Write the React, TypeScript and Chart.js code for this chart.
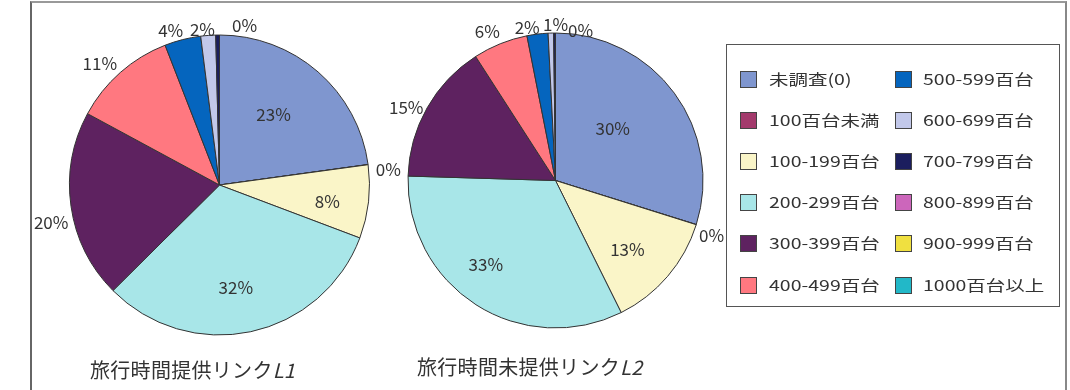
import React, { useEffect, useRef } from "react";
import { Chart, registerables } from "chart.js";

Chart.register(...registerables);

const categories = [
  "未調査(0)", "100百台未満", "100-199百台", "200-299百台", "300-399百台", "400-499百台",
  "500-599百台", "600-699百台", "700-799百台", "800-899百台", "900-999百台", "1000百台以上",
];
const colors = [
  "#7F96CF", "#A33A6C", "#FAF5C8", "#A8E6E8", "#5E2260", "#FF7880",
  "#0565BE", "#C2C8EA", "#1B1E5E", "#CC66BB", "#F0E040", "#22B8C8",
];
const seriesL1 = [22.8, 0.02, 7.9, 31.8, 20.3, 11.2, 3.9, 1.6, 0.4, 0, 0, 0];
const seriesL2 = [29.8, 0.02, 12.8, 32.8, 15.4, 6.0, 2.3, 0.6, 0.2, 0, 0, 0];

// label placement config (which slices get inside labels, and fine nudges)
const insideL1 = [0, 2, 3];
const insideL2 = [0, 2, 3];
const nudgeL1: Record<number, [number, number]> = {
  0: [-10, 3], 1: [5, 7], 2: [11, 6], 3: [-4, 7], 4: [0, 13], 5: [-8, 5], 6: [-9, 2], 7: [-5, 4], 8: [27, 0],
};
const nudgeL2: Record<number, [number, number]> = {
  0: [-20, 5], 1: [0, 6], 2: [-1, 7], 3: [-18, 3], 4: [-3, 10], 5: [-8, 0], 6: [-9, 4], 7: [5, 1], 8: [26, 7],
};

const LABEL_FONT = '17px "Noto Sans CJK JP", sans-serif';

function makeLabelPlugin(inside: number[], nudge: Record<number, [number, number]>) {
  return {
    id: "pctLabels",
    afterDatasetsDraw(chart: any) {
      const ctx = chart.ctx;
      const meta = chart.getDatasetMeta(0);
      const data = chart.data.datasets[0].data as number[];
      const total = data.reduce((a, b) => a + b, 0);
      ctx.save();
      ctx.font = LABEL_FONT;
      ctx.fillStyle = "#333";
      ctx.textAlign = "center";
      ctx.textBaseline = "middle";
      meta.data.forEach((arc: any, i: number) => {
        const v = data[i];
        if (!(v > 0)) return;
        const text = Math.round((v / total) * 100) + "%";
        const p = arc.getProps(["x", "y", "startAngle", "endAngle", "outerRadius"], true);
        const mid = (p.startAngle + p.endAngle) / 2;
        const ux = Math.cos(mid);
        const uy = Math.sin(mid);
        let x: number, y: number;
        if (inside.includes(i)) {
          x = p.x + ux * p.outerRadius * 0.65;
          y = p.y + uy * p.outerRadius * 0.65;
        } else {
          const w = ctx.measureText(text).width;
          const h = 14;
          const d = p.outerRadius + 2 + Math.abs(ux) * w / 2 + Math.abs(uy) * h / 2;
          x = p.x + ux * d;
          y = p.y + uy * d;
        }
        const n = nudge[i] || [0, 0];
        ctx.fillText(text, x + n[0], y + n[1]);
      });
      ctx.restore();
    },
  };
}

function PieCanvas(props: { values: number[]; padding: any; inside: number[]; nudge: Record<number, [number, number]> }) {
  const ref = useRef<HTMLCanvasElement | null>(null);
  useEffect(() => {
    if (!ref.current) return;
    const chart = new Chart(ref.current, {
      type: "pie",
      data: {
        labels: categories,
        datasets: [
          {
            data: props.values,
            backgroundColor: colors,
            borderColor: "#333",
            borderWidth: 1,
          },
        ],
      },
      options: {
        responsive: false,
        animation: false,
        layout: { padding: props.padding },
        plugins: { legend: { display: false }, tooltip: { enabled: false }, title: { display: false } },
      },
      plugins: [makeLabelPlugin(props.inside, props.nudge)],
    } as any);
    return () => chart.destroy();
  }, []);
  return (
    <canvas
      ref={ref}
      width={1070}
      height={390}
      style={{ position: "absolute", left: 0, top: 0, width: 1070, height: 390 }}
    />
  );
}

export default function App() {
  useEffect(() => {
    document.body.style.margin = "0";
    document.body.style.overflow = "hidden";
  }, []);
  const legendFont = '"Noto Sans CJK JP", sans-serif';
  const rows = 6;
  return (
    <div style={{ position: "absolute", left: 0, top: 0, width: 1070, height: 390, background: "#fff", overflow: "hidden" }}>
      <div
        style={{
          position: "absolute",
          left: 30,
          top: 1,
          width: 1037,
          height: 400,
          borderLeft: "2px solid #666",
          borderTop: "2px solid #999",
          borderRight: "2px solid #888",
          boxSizing: "border-box",
        }}
      />
      <PieCanvas values={seriesL1} padding={{ left: 69, right: 700, top: 34.5, bottom: 54.5 }} inside={insideL1} nudge={nudgeL1} />
      <PieCanvas values={seriesL2} padding={{ left: 407.5, right: 366.5, top: 32.5, bottom: 61.5 }} inside={insideL2} nudge={nudgeL2} />
      <div style={{ position: "absolute", left: 90, top: 357, fontFamily: legendFont, fontSize: 20, color: "#333", whiteSpace: "nowrap", lineHeight: "26px", letterSpacing: 0.3 }}>
        旅行時間提供リンク<i>L1</i>
      </div>
      <div style={{ position: "absolute", left: 417, top: 354, fontFamily: legendFont, fontSize: 20, color: "#333", whiteSpace: "nowrap", lineHeight: "26px", letterSpacing: 0.3 }}>
        旅行時間未提供リンク<i>L2</i>
      </div>
      <div
        style={{
          position: "absolute",
          left: 726,
          top: 44,
          width: 334,
          height: 263,
          border: "1px solid #555",
          boxSizing: "border-box",
        }}
      />
      {categories.map((c, i) => {
        const col = Math.floor(i / rows);
        const row = i % rows;
        const sx = col === 0 ? 740 : 895;
        const tx = col === 0 ? 769 : 923;
        const cy = 79 + row * 41.1;
        return (
          <React.Fragment key={c}>
            <div
              style={{
                position: "absolute",
                left: sx,
                top: cy - 8,
                width: 17,
                height: 17,
                background: colors[i],
                border: "1px solid #444",
                boxSizing: "border-box",
              }}
            />
            <div
              style={{
                position: "absolute",
                left: tx,
                top: cy - 11,
                height: 22,
                lineHeight: "22px",
                fontFamily: legendFont,
                fontSize: 15,
                color: "#333",
                whiteSpace: "nowrap",
                transform: "scaleX(1.3)",
                transformOrigin: "left center",
              }}
            >
              {c}
            </div>
          </React.Fragment>
        );
      })}
    </div>
  );
}
